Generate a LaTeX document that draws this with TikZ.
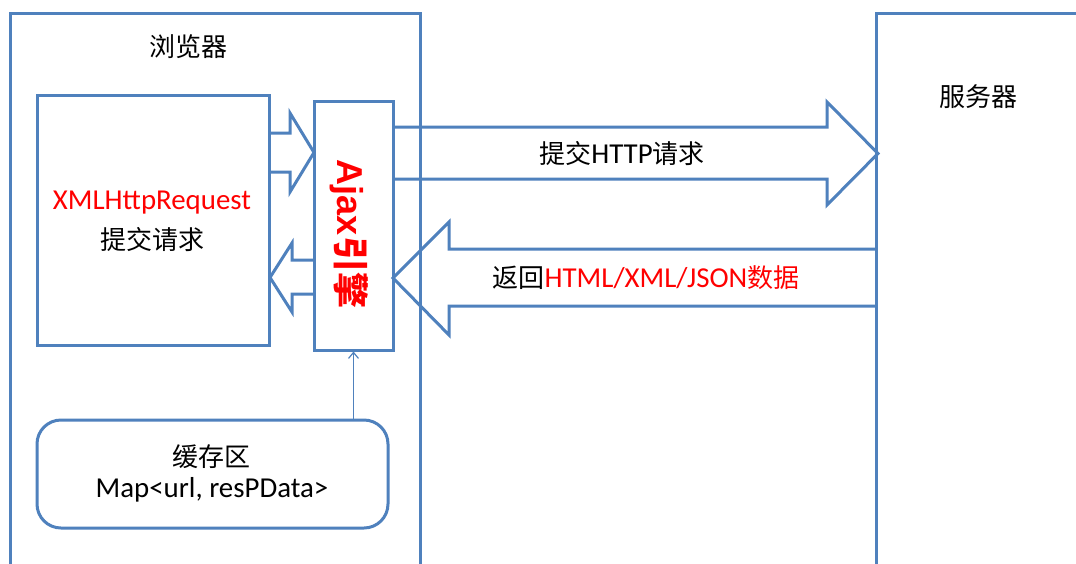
\documentclass[tikz,border=0pt]{standalone}
\usepackage{fontspec}
\usetikzlibrary{arrows.meta}
\setmainfont[Scale=1.11]{Carlito}
\newfontfamily\cjk{Noto Sans CJK SC}
\newfontfamily\arialb{Liberation Sans}
\definecolor{lineblue}{RGB}{79,129,189}
\definecolor{txtred}{RGB}{255,0,0}
\newcommand\myfs{\fontsize{26}{30}\selectfont}
\tikzset{
  blueline/.style={draw=lineblue, line width=3pt, line join=miter},
  boxnode/.style={blueline, fill=white, inner sep=0pt},
  lbl/.style={inner sep=0pt, font=\myfs, text=black},
}
\begin{document}
\begin{tikzpicture}[x=1pt,y=-1pt]
\useasboundingbox (0,0) rectangle (1076,563);
\fill[white] (0,0) rectangle (1076,563);
\clip (0,0) rectangle (1076,563);
% browser and server frames
\draw[blueline] (10,600) -- (10,13) -- (420,13) -- (420,600);
\draw[blueline] (876,600) -- (876,13) -- (1100,13);
% boxes
\node[boxnode, minimum width=232, minimum height=250] (xhr) at (153,220) {};
\node[boxnode, minimum width=79, minimum height=249] (ajax) at (353.5,225.5) {};
\node[boxnode, minimum width=351, minimum height=108, rounded corners=24] (cache) at (212.5,474) {};
% small block arrows
\draw[blueline] (269,133) -- (290,133) -- (290,113) -- (314,152.5) -- (290,192) -- (290,172) -- (269,172);
\draw[blueline] (314,260) -- (292,260) -- (292,243) -- (270,277.5) -- (292,312) -- (292,294) -- (314,294);
% big block arrows
\draw[blueline] (393,127) -- (827,127) -- (827,102) -- (878,153.5) -- (827,205) -- (827,179) -- (393,179);
\draw[blueline] (876,249) -- (449,249) -- (449,222) -- (393,278) -- (449,335) -- (449,306) -- (876,306);
% cache to ajax
\draw[draw=lineblue, line width=1.2pt, -{Straight Barb[length=6pt,width=10pt]}] (ajax.south |- cache.north) -- (ajax.south);
% labels
\node[lbl] (tbrowser) at (188,47) {\cjk 浏览器};
\node[lbl] (tserver) at (978,97) {\cjk 服务器};
\node[lbl, text=txtred] (txhr) at (152,203) {XMLHttpRequest};
\node[lbl] (tsubmit) at (152,240) {\cjk 提交请求};
\node[lbl, text=txtred, rotate=-90, font=\fontsize{36}{40}\selectfont] (tajax) at (349,234) {\arialb\bfseries Ajax{\cjk\bfseries 引擎}};
\node[lbl] (thttp) at (622,154) {{\cjk 提交}HTTP{\cjk 请求}};
\node[lbl] (tret) at (646,278) {{\cjk 返回}\textcolor{txtred}{HTML/XML/JSON{\cjk 数据}}};
\node[lbl] (tcache) at (211,457) {\cjk 缓存区};
\node[lbl] (tmap) at (212,490) {Map<url, resPData>};
\end{tikzpicture}
\end{document}
